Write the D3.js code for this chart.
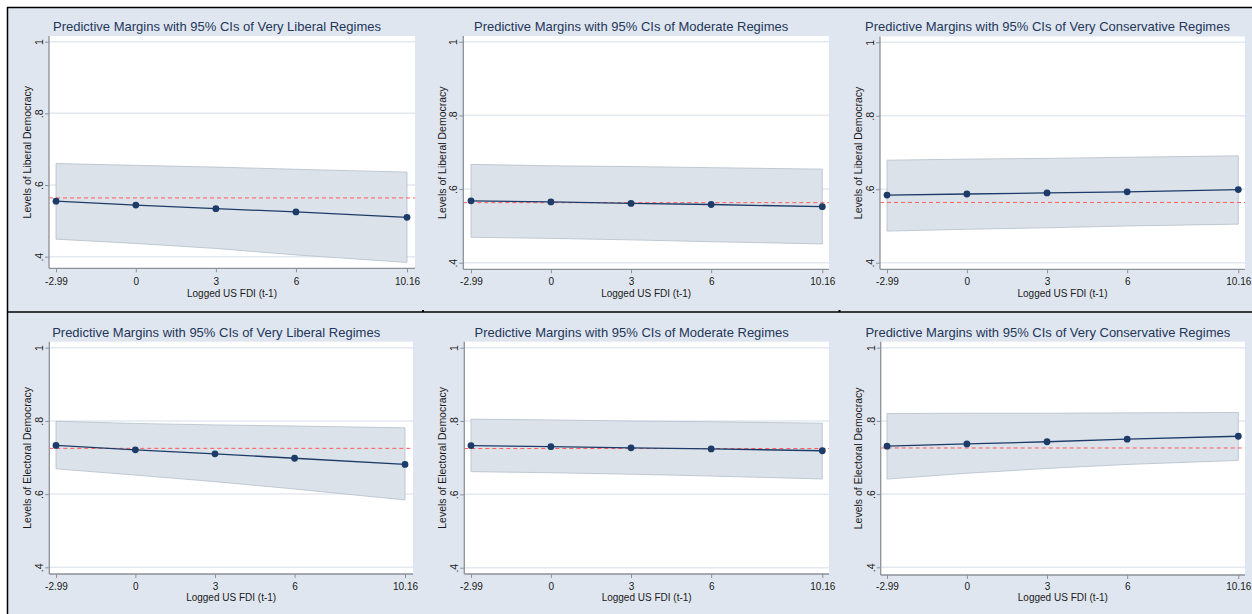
<!DOCTYPE html>
<html>
<head>
<meta charset="utf-8">
<script src="https://cdn.jsdelivr.net/npm/d3@7"></script>
<style>
  html, body { margin: 0; padding: 0; background: #ffffff; }
  svg { display: block; }
  text { font-family: "Liberation Sans", Arial, "DejaVu Sans", sans-serif; }
</style>
</head>
<body>
<script>
// ---------------- DATA ----------------
const xTicks = [-2.99, 0, 3, 6, 10.16];
const xTickLabels = ["-2.99", "0", "3", "6", "10.16"];
const yTicks = [0.4, 0.6, 0.8, 1];
const yTickLabels = [".4", ".6", ".8", "1"];
const xTitle = "Logged US FDI (t-1)";

const panelTitles = [
  "Predictive Margins with 95% CIs of Very Liberal Regimes",
  "Predictive Margins with 95% CIs of Moderate Regimes",
  "Predictive Margins with 95% CIs of Very Conservative Regimes",
  "Predictive Margins with 95% CIs of Very Liberal Regimes",
  "Predictive Margins with 95% CIs of Moderate Regimes",
  "Predictive Margins with 95% CIs of Very Conservative Regimes"
];
const yTitles = [
  "Levels of Liberal Democracy", "Levels of Liberal Democracy", "Levels of Liberal Democracy",
  "Levels of Electoral Democracy", "Levels of Electoral Democracy", "Levels of Electoral Democracy"
];

// predicted margins at each x tick
const marginLibVeryLiberal   = [0.555, 0.544, 0.534, 0.525, 0.510];
const marginLibModerate      = [0.568, 0.565, 0.561, 0.558, 0.552];
const marginLibVeryConserv   = [0.584, 0.587, 0.590, 0.593, 0.599];
const marginElecVeryLiberal  = [0.733, 0.721, 0.710, 0.698, 0.681];
const marginElecModerate     = [0.733, 0.730, 0.727, 0.724, 0.719];
const marginElecVeryConserv  = [0.731, 0.737, 0.743, 0.750, 0.758];

// 95% CI lower bounds
const lowerLibVeryLiberal    = [0.449, 0.437, 0.423, 0.405, 0.384];
const lowerLibModerate       = [0.469, 0.466, 0.462, 0.457, 0.451];
const lowerLibVeryConserv    = [0.486, 0.491, 0.495, 0.500, 0.505];
const lowerElecVeryLiberal   = [0.669, 0.652, 0.634, 0.614, 0.584];
const lowerElecModerate      = [0.662, 0.659, 0.655, 0.650, 0.642];
const lowerElecVeryConserv   = [0.641, 0.657, 0.670, 0.681, 0.692];

// 95% CI upper bounds
const upperLibVeryLiberal    = [0.660, 0.655, 0.650, 0.644, 0.636];
const upperLibModerate       = [0.667, 0.663, 0.661, 0.658, 0.654];
const upperLibVeryConserv    = [0.679, 0.682, 0.684, 0.687, 0.691];
const upperElecVeryLiberal   = [0.799, 0.793, 0.789, 0.786, 0.781];
const upperElecModerate      = [0.805, 0.803, 0.800, 0.798, 0.794];
const upperElecVeryConserv   = [0.820, 0.821, 0.821, 0.822, 0.823];

// reference (mean) lines
const refLines = [0.564, 0.563, 0.564, 0.725, 0.725, 0.726];

const margins = [marginLibVeryLiberal, marginLibModerate, marginLibVeryConserv,
                 marginElecVeryLiberal, marginElecModerate, marginElecVeryConserv];
const lowers  = [lowerLibVeryLiberal, lowerLibModerate, lowerLibVeryConserv,
                 lowerElecVeryLiberal, lowerElecModerate, lowerElecVeryConserv];
const uppers  = [upperLibVeryLiberal, upperLibModerate, upperLibVeryConserv,
                 upperElecVeryLiberal, upperElecModerate, upperElecVeryConserv];

// ---------------- LAYOUT ----------------
const W = 1252, H = 614;
const layout = [
  {axisX: 49,    right: 415,  top: 36,    axisY: 268.3, x0: 56,  x1: 407,    y1: 41.7,  y04: 256.7, titleY: 26.7,  tickLblY: 281.5, xTitleY: 293.5, yTitleX: 26.7},
  {axisX: 463.3, right: 829,  top: 36,    axisY: 269.3, x0: 471, x1: 822.3,  y1: 41.7,  y04: 262.7, titleY: 26.7,  tickLblY: 281.5, xTitleY: 293.5, yTitleX: 441.7},
  {axisX: 880,   right: 1245, top: 36.5,  axisY: 269.3, x0: 887, x1: 1238.3, y1: 42.3,  y04: 262.7, titleY: 26.7,  tickLblY: 281.5, xTitleY: 293.5, yTitleX: 858.3},
  {axisX: 49.3,  right: 413,  top: 341.7, axisY: 574,   x0: 56,  x1: 405,    y1: 347.7, y04: 567.3, titleY: 332.3, tickLblY: 586,   xTitleY: 597.5, yTitleX: 26.7},
  {axisX: 464.3, right: 829,  top: 341.7, axisY: 574,   x0: 471, x1: 822.3,  y1: 347.7, y04: 567.7, titleY: 332.3, tickLblY: 586,   xTitleY: 597.5, yTitleX: 441.7},
  {axisX: 880.7, right: 1245, top: 341.7, axisY: 575,   x0: 887, x1: 1238.3, y1: 347.7, y04: 567.3, titleY: 332.3, tickLblY: 586,   xTitleY: 597.5, yTitleX: 858.3}
];

const C = {
  bg: "#e0e6ef",
  plot: "#ffffff",
  grid: "#e4e9f0",
  axis: "#8c9098",
  ciFill: "#dce2ea",
  ciStroke: "#b4bfcb",
  line: "#1c3b68",
  ref: "#ff5c5c",
  title: "#23375a",
  text: "#1a1a1a"
};
const smallFont = "10px";

const svg = d3.select("body").append("svg").attr("width", W).attr("height", H);

svg.append("rect").attr("x", 0).attr("y", 0).attr("width", W).attr("height", H).attr("fill", "#ffffff");
svg.append("rect").attr("x", 7).attr("y", 7).attr("width", W - 7).attr("height", H - 7).attr("fill", C.bg);

// frame lines
svg.append("line").attr("x1", 7).attr("x2", W).attr("y1", 7.5).attr("y2", 7.5).attr("stroke", "#000").attr("stroke-width", 1.5);
svg.append("line").attr("x1", 7.5).attr("x2", 7.5).attr("y1", 7).attr("y2", H).attr("stroke", "#000").attr("stroke-width", 1.5);
svg.append("line").attr("x1", 7).attr("x2", W).attr("y1", 312).attr("y2", 312).attr("stroke", "#000").attr("stroke-width", 1.5);
svg.append("rect").attr("x", 422).attr("y", 310).attr("width", 2).attr("height", 2).attr("fill", "#000");
svg.append("rect").attr("x", 838.5).attr("y", 310).attr("width", 2).attr("height", 2).attr("fill", "#000");

layout.forEach((L, i) => {
  const g = svg.append("g");
  const x = d3.scaleLinear().domain([xTicks[0], xTicks[xTicks.length - 1]]).range([L.x0, L.x1]);
  const y = d3.scaleLinear().domain([0.4, 1]).range([L.y04, L.y1]);

  const pts = xTicks.map((xv, k) => ({x: xv, m: margins[i][k], lo: lowers[i][k], hi: uppers[i][k]}));

  // plot region
  g.append("rect").attr("x", L.axisX).attr("y", L.top)
    .attr("width", L.right - L.axisX).attr("height", L.axisY - L.top).attr("fill", C.plot);

  // gridlines
  g.selectAll(".grid").data(yTicks).join("line")
    .attr("x1", L.axisX).attr("x2", L.right)
    .attr("y1", d => y(d)).attr("y2", d => y(d))
    .attr("stroke", C.grid).attr("stroke-width", 1.5);

  // CI area
  g.append("path").datum(pts)
    .attr("d", d3.area().x(d => x(d.x)).y0(d => y(d.lo)).y1(d => y(d.hi)))
    .attr("fill", C.ciFill).attr("stroke", C.ciStroke).attr("stroke-width", 0.8);

  // reference line
  g.append("line").attr("x1", L.axisX).attr("x2", L.right)
    .attr("y1", y(refLines[i])).attr("y2", y(refLines[i]))
    .attr("stroke", C.ref).attr("stroke-width", 1).attr("stroke-dasharray", "4,3");

  // margins line
  g.append("path").datum(pts)
    .attr("d", d3.line().x(d => x(d.x)).y(d => y(d.m)))
    .attr("fill", "none").attr("stroke", C.line).attr("stroke-width", 1.3);

  g.selectAll(".pt").data(pts).join("circle")
    .attr("cx", d => x(d.x)).attr("cy", d => y(d.m)).attr("r", 3.4).attr("fill", C.line);

  // y axis
  const ya = g.append("g").attr("transform", `translate(${L.axisX},0)`)
    .call(d3.axisLeft(y).tickValues(yTicks).tickFormat((d, k) => yTickLabels[k]).tickSize(4));
  ya.select(".domain").remove();
  ya.selectAll(".tick line").attr("stroke", C.axis).attr("stroke-width", 1);
  ya.selectAll(".tick text")
    .attr("x", null).attr("dy", null)
    .attr("transform", "translate(-6.2,0) rotate(-90)")
    .attr("text-anchor", "middle")
    .attr("fill", C.text).style("font-size", "10.5px").style("font-family", "'Liberation Sans', Arial, sans-serif");
  g.append("line").attr("x1", L.axisX).attr("x2", L.axisX).attr("y1", L.top).attr("y2", L.axisY)
    .attr("stroke", C.axis).attr("stroke-width", 1.3);

  // x axis
  const xa = g.append("g").attr("transform", `translate(0,${L.axisY})`)
    .call(d3.axisBottom(x).tickValues(xTicks).tickFormat((d, k) => xTickLabels[k]).tickSize(4));
  xa.select(".domain").remove();
  xa.selectAll(".tick line").attr("stroke", C.axis).attr("stroke-width", 1);
  xa.selectAll(".tick text")
    .attr("y", L.tickLblY - L.axisY + 3.6).attr("dy", null)
    .attr("fill", C.text).style("font-size", smallFont).style("font-family", "'Liberation Sans', Arial, sans-serif");
  g.append("line").attr("x1", L.axisX).attr("x2", L.right).attr("y1", L.axisY).attr("y2", L.axisY)
    .attr("stroke", C.axis).attr("stroke-width", 1.3);

  // axis titles
  g.append("text").attr("x", (L.axisX + L.right) / 2).attr("y", L.xTitleY + 3.6)
    .attr("text-anchor", "middle").attr("fill", C.text).style("font-size", smallFont)
    .text(xTitle);
  const cy = (L.top + L.axisY) / 2;
  g.append("text").attr("transform", `translate(${L.yTitleX + 3.8},${cy}) rotate(-90)`)
    .attr("text-anchor", "middle").attr("fill", C.text).style("font-size", "10.5px")
    .text(yTitles[i]);

  // panel title
  g.append("text").attr("x", (L.axisX + L.right) / 2 - 15).attr("y", L.titleY + 4.7)
    .attr("text-anchor", "middle").attr("fill", C.title).style("font-size", "13px")
    .text(panelTitles[i]);
});
</script>
</body>
</html>
